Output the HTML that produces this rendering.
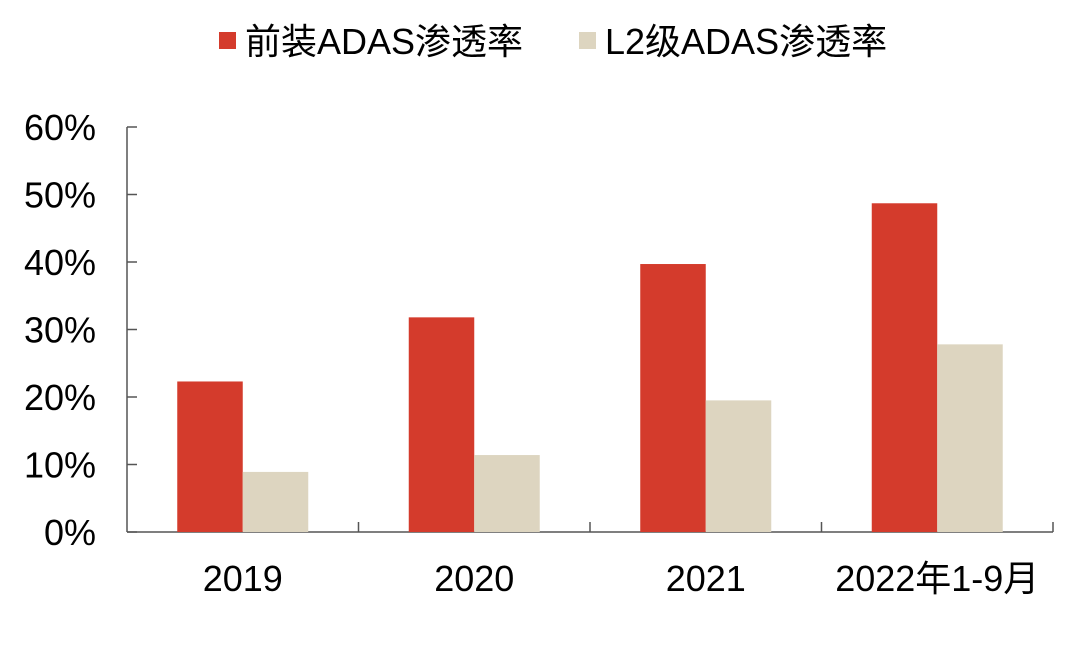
<!DOCTYPE html>
<html><head><meta charset="utf-8"><style>
body{margin:0;background:#fff;}
svg text{font-family:"Liberation Sans","Noto Sans CJK SC",sans-serif;fill:#000;}
</style></head><body>
<svg width="1080" height="650" xmlns="http://www.w3.org/2000/svg">
<g>
 <rect x="219" y="32" width="17" height="17" fill="#d43b2c"/>
 <text x="245" y="54" font-size="36">前装ADAS渗透率</text>
 <rect x="579" y="32" width="17" height="17" fill="#ddd5c0"/>
 <text x="605" y="54" font-size="36">L2级ADAS渗透率</text>
</g>
<g id="plot"></g>
</svg>
<script>
const categories=["2019","2020","2021","2022年1-9月"];
const frontValues=[22.3,31.8,39.7,48.7];
const l2Values=[8.9,11.4,19.5,27.8];
const yTicks=[0,10,20,30,40,50,60];
const yTickLabels=["0%","10%","20%","30%","40%","50%","60%"];
const NS="http://www.w3.org/2000/svg";
const g=document.getElementById('plot');
const x0=127,x1=1053,yBase=532,yTop=127,yMax=60;
const y=v=>yBase-(v/yMax)*(yBase-yTop);
const cw=(x1-x0)/categories.length;
const bw=65.5;
function mk(t,a){const e=document.createElementNS(NS,t);for(const k in a)e.setAttribute(k,a[k]);g.appendChild(e);return e;}
let ax=mk('line',{x1:x0,y1:yTop,x2:x0,y2:yBase,stroke:'#555','stroke-width':1.5});


let bx=mk('line',{x1:x0,y1:yBase,x2:x1,y2:yBase,stroke:'#555','stroke-width':1.5});


yTicks.forEach((v,i)=>{
 let t=mk('line',{x1:x0,y1:y(v),x2:x0+10,y2:y(v),stroke:'#555','stroke-width':1.5});
 
 
 let l=mk('text',{x:96,y:y(v)+13,'text-anchor':'end','font-size':36});
 l.textContent=yTickLabels[i];
 
 
});
categories.forEach((c,i)=>{
 const cx=x0+cw*(i+0.5);
 let t=mk('line',{x1:x0+cw*(i+1),y1:yBase,x2:x0+cw*(i+1),y2:yBase-10,stroke:'#555','stroke-width':1.5});
 
 
 let r=mk('rect',{x:cx-bw,y:y(frontValues[i]),width:bw,height:yBase-y(frontValues[i]),fill:'#d43b2c'});
 
 
 let b=mk('rect',{x:cx,y:y(l2Values[i]),width:bw,height:yBase-y(l2Values[i]),fill:'#ddd5c0'});
 
 
 let l=mk('text',{x:cx,y:591,'text-anchor':'middle','font-size':36});
 l.textContent=c;
 
 
});
</script>
</body></html>
